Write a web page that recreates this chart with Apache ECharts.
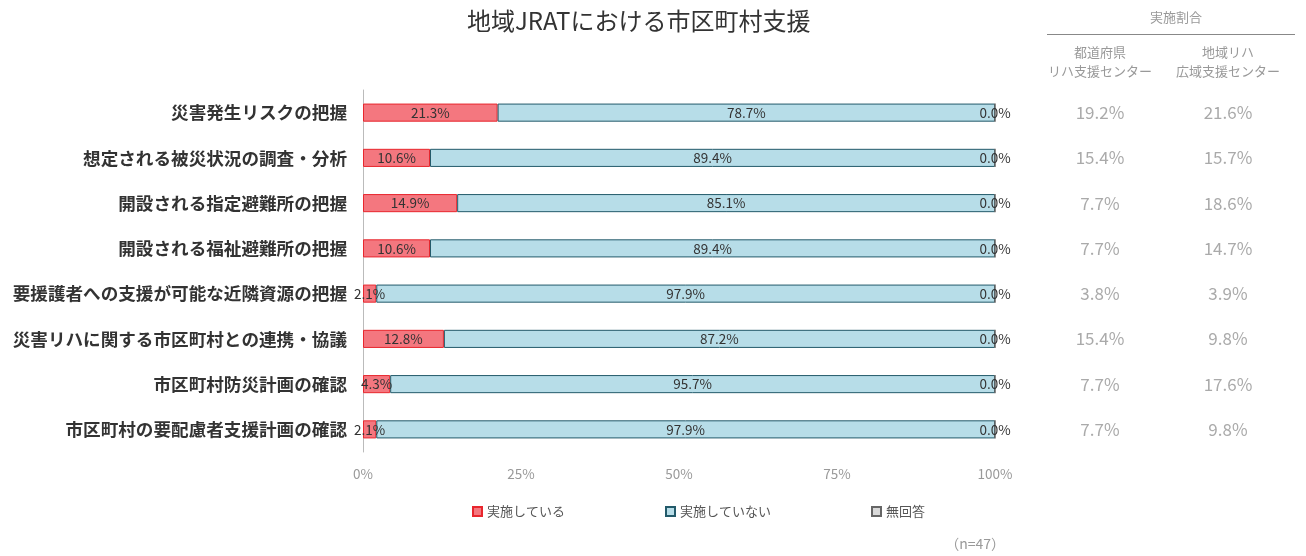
<!DOCTYPE html>
<html>
<head>
<meta charset="utf-8">
<script src="https://cdn.jsdelivr.net/npm/echarts@6/dist/echarts.min.js"></script>
<style>
  html, body { margin: 0; padding: 0; background: #fff; }
  #main { width: 1306px; height: 556px; }
</style>
</head>
<body>
<div id="main"></div>
<script>
var categories = [
  '災害発生リスクの把握',
  '想定される被災状況の調査・分析',
  '開設される指定避難所の把握',
  '開設される福祉避難所の把握',
  '要援護者への支援が可能な近隣資源の把握',
  '災害リハに関する市区町村との連携・協議',
  '市区町村防災計画の確認',
  '市区町村の要配慮者支援計画の確認'
];
var implemented = [21.3, 10.6, 14.9, 10.6, 2.1, 12.8, 4.3, 2.1];
var notImplemented = [78.7, 89.4, 85.1, 89.4, 97.9, 87.2, 95.7, 97.9];
var noAnswer = [0, 0, 0, 0, 0, 0, 0, 0];
var prefCenter = [19.2, 15.4, 7.7, 7.7, 3.8, 15.4, 7.7, 7.7];
var regionalCenter = [21.6, 15.7, 18.6, 14.7, 3.9, 9.8, 17.6, 9.8];
var xTicks = [0, 25, 50, 75, 100];

var FONT = '"Noto Sans CJK JP", "Noto Sans", sans-serif';

var chartDom = document.getElementById('main');
var myChart = echarts.init(chartDom);

var pct = function (v) { return v.toFixed(1) + '%'; };

var labelStyle = {
  show: true,
  position: 'inside',
  color: '#333',
  fontSize: 13.5,
  fontFamily: FONT,
  formatter: function (p) { return pct(p.value); }
};

var tableAxis = function (values, offset) {
  return {
    type: 'category',
    data: values.map(pct),
    inverse: true,
    position: 'right',
    offset: offset,
    axisLine: { show: false },
    axisTick: { show: false },
    axisLabel: {
      margin: 0,
      align: 'center',
      color: '#aaa',
      fontSize: 17,
      fontFamily: FONT
    }
  };
};

var option = {
  animation: false,
  textStyle: { fontFamily: FONT },
  title: {
    text: '地域JRATにおける市区町村支援',
    left: 462,
    top: 4,
    textStyle: { fontSize: 24, fontWeight: 400, color: '#333', fontFamily: FONT }
  },
  legend: {
    left: 467,
    top: 500,
    itemWidth: 9,
    itemHeight: 9,
    itemGap: 100,
    icon: 'rect',
    textStyle: { fontSize: 13, color: '#555', fontFamily: FONT },
    data: ['実施している', '実施していない', '無回答']
  },
  grid: {
    left: 363,
    right: 311,
    top: 90,
    bottom: 104
  },
  xAxis: {
    type: 'value',
    min: xTicks[0],
    max: xTicks[xTicks.length - 1],
    interval: 25,
    splitLine: { show: false },
    axisLine: { show: false },
    axisTick: { show: false },
    axisLabel: {
      margin: 15,
      color: '#999',
      fontSize: 13.5,
      fontFamily: FONT,
      formatter: '{value}%'
    }
  },
  yAxis: [
    {
      type: 'category',
      data: categories,
      inverse: true,
      axisLine: { show: true, lineStyle: { color: '#bbb' } },
      axisTick: { show: false },
      axisLabel: {
        margin: 16,
        color: '#333',
        fontSize: 17.6,
        fontWeight: 'bold',
        fontFamily: FONT
      }
    },
    tableAxis(prefCenter, 105),
    tableAxis(regionalCenter, 233)
  ],
  series: [
    {
      name: '実施している',
      type: 'bar',
      stack: 'total',
      barWidth: '40%',
      data: implemented,
      itemStyle: { color: '#f4777f', borderColor: '#e8262d', borderWidth: 1 },
      label: labelStyle
    },
    {
      name: '実施していない',
      type: 'bar',
      stack: 'total',
      data: notImplemented,
      itemStyle: { color: '#b7dde8', borderColor: '#235a6a', borderWidth: 1 },
      label: labelStyle
    },
    {
      name: '無回答',
      type: 'bar',
      stack: 'total',
      data: noAnswer,
      itemStyle: { color: '#d9d9d9', borderColor: '#666', borderWidth: 1 },
      label: labelStyle
    }
  ],
  graphic: [
    {
      type: 'text', x: 1176, y: 11,
      style: { text: '実施割合', fill: '#999', fontSize: 13, fontFamily: FONT, textAlign: 'center' }
    },
    {
      type: 'line',
      shape: { x1: 1047, y1: 34.5, x2: 1295, y2: 34.5 },
      style: { stroke: '#888', lineWidth: 1 }
    },
    {
      type: 'text', x: 1100, y: 43,
      style: { text: '都道府県\nリハ支援センター', fill: '#999', fontSize: 13, lineHeight: 19, fontFamily: FONT, textAlign: 'center' }
    },
    {
      type: 'text', x: 1228, y: 43,
      style: { text: '地域リハ\n広域支援センター', fill: '#999', fontSize: 13, lineHeight: 19, fontFamily: FONT, textAlign: 'center' }
    },
    {
      type: 'text', x: 1005, y: 537,
      style: { text: '（n=47）', fill: '#999', fontSize: 14, fontFamily: FONT, textAlign: 'right' }
    }
  ]
};

myChart.setOption(option);

window.addEventListener('resize', () => myChart.resize());
</script>
</body>
</html>
